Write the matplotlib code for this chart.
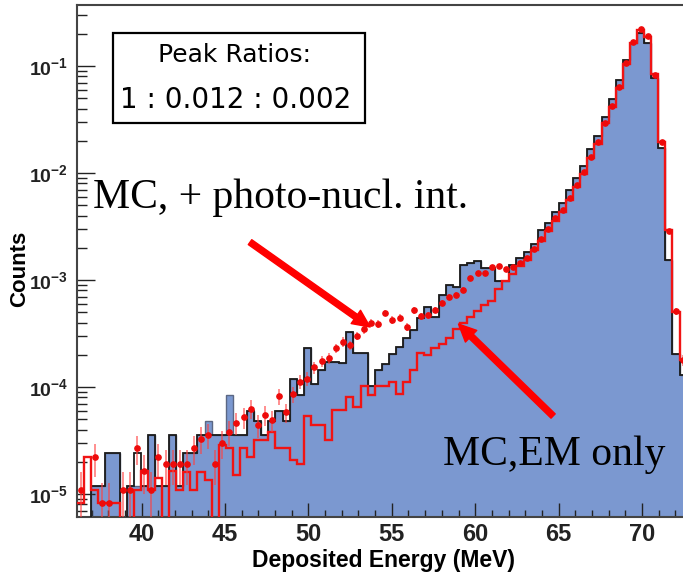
import numpy as np
import matplotlib.pyplot as plt
from matplotlib import font_manager
from matplotlib.patches import Rectangle
from matplotlib.ticker import LogLocator, MultipleLocator, FuncFormatter, NullFormatter

# deposited-energy spectra, 0.425 MeV bins starting at 36.125 MeV
data_fill = [0, 0, 1.2e-5, 1.2e-5, 2.4e-5, 2.4e-5, 0, 1.2e-5, 1.2e-5, 1.2e-5,
             3.6e-5, 1.2e-5, 1.2e-5, 3.6e-5, 1.2e-5, 2.4e-5, 2.4e-5, 3.6e-5, 4.8e-5, 3.6e-5,
             3.6e-5, 8.4e-5, 3.6e-5, 3.6e-5, 6.0e-5, 4.8e-5, 3.6e-5, 4.8e-5, 6.0e-5, 4.8e-5,
             1.2e-4, 8.4e-5, 2.3e-4, 1.07e-4, 1.44e-4, 1.73e-4, 1.73e-4, 1.69e-4, 3.3e-4, 2.07e-4,
             2.1e-4, 1.03e-4, 1.44e-4, 1.65e-4, 2.05e-4, 2.37e-4, 2.9e-4, 3.4e-4, 4.4e-4, 5.6e-4,
             4.5e-4, 7.3e-4, 9.0e-4, 8.7e-4, 1.38e-3, 1.43e-3, 1.52e-3, 1.3e-3, 1.3e-3, 9.9e-4,
             9.9e-4, 1.39e-3, 1.6e-3, 1.84e-3, 2.17e-3, 2.93e-3, 3.43e-3, 4.33e-3, 5.26e-3, 6.9e-3,
             8.9e-3, 0.0117, 0.0166, 0.0222, 0.0335, 0.049, 0.074, 0.114, 0.165, 0.202,
             0.164, 0.077, 0.017, 1.54e-3, 2.03e-4, 1.29e-4]

data_line = [0, 0, 1.2e-5, 1.2e-5, 2.4e-5, 2.4e-5, 0, 1.2e-5, 2.4e-5, 1.2e-5,
             3.6e-5, 1.2e-5, 1.2e-5, 3.6e-5, 1.2e-5, 2.4e-5, 2.4e-5, 3.6e-5, 3.6e-5, 3.6e-5,
             3.6e-5, 3.6e-5, 3.6e-5, 3.6e-5, 6.0e-5, 4.8e-5, 3.6e-5, 4.8e-5, 6.0e-5, 4.8e-5,
             1.2e-4, 8.4e-5, 2.3e-4, 1.07e-4, 1.44e-4, 1.73e-4, 1.73e-4, 1.69e-4, 3.3e-4, 2.07e-4,
             2.1e-4, 1.03e-4, 1.44e-4, 1.65e-4, 2.05e-4, 2.37e-4, 2.9e-4, 3.4e-4, 4.4e-4, 5.6e-4,
             4.5e-4, 7.3e-4, 9.0e-4, 8.7e-4, 1.38e-3, 1.43e-3, 1.52e-3, 1.3e-3, 1.3e-3, 9.9e-4,
             9.9e-4, 1.39e-3, 1.6e-3, 1.84e-3, 2.17e-3, 2.93e-3, 3.43e-3, 4.33e-3, 5.26e-3, 6.9e-3,
             8.9e-3, 0.0117, 0.0166, 0.0222, 0.0335, 0.049, 0.074, 0.114, 0.165, 0.202,
             0.164, 0.077, 0.017, 1.54e-3, 2.03e-4, 1.29e-4]

mc_em = [8.2e-6, 2.2e-5, 1.1e-5, 8.2e-6, 8.2e-6, 8.2e-6, 0, 0, 1.1e-5, 1.65e-5,
         1.1e-5, 1.4e-5, 0, 1.65e-5, 1.1e-5, 1.6e-5, 1.1e-5, 1.6e-5, 1.35e-5, 0,
         2.9e-5, 2.7e-5, 1.5e-5, 2.7e-5, 2.2e-5, 3.2e-5, 3.2e-5, 3.8e-5, 2.7e-5, 2.7e-5,
         2.1e-5, 1.9e-5, 5.4e-5, 4.4e-5, 4.4e-5, 3.2e-5, 6.1e-5, 6.1e-5, 8.1e-5, 6.5e-5,
         1.03e-4, 8.4e-5, 1.03e-4, 1.03e-4, 1.12e-4, 8.7e-5, 1.12e-4, 1.44e-4, 2.1e-4, 2.0e-4,
         2.3e-4, 2.5e-4, 2.9e-4, 3.5e-4, 4.0e-4, 4.5e-4, 5.1e-4, 5.9e-4, 6.4e-4, 8.2e-4,
         9.7e-4, 1.15e-3, 1.35e-3, 1.54e-3, 1.9e-3, 2.3e-3, 2.9e-3, 3.6e-3, 4.3e-3, 5.6e-3,
         7.4e-3, 9.8e-3, 0.0137, 0.0187, 0.0292, 0.041, 0.063, 0.104, 0.165, 0.217,
         0.188, 0.084, 0.0196, 2.93e-3, 5.06e-4, 1.79e-4]

mc_pn = [1.1e-5, np.nan, 2.2e-5, 8.2e-6, 8.2e-6, np.nan, 1.1e-5, 1.1e-5, 2.7e-5, 1.65e-5,
         1.1e-5, 2.2e-5, 1.9e-5, 1.9e-5, 1.9e-5, 1.9e-5, 2.7e-5, 3.3e-5, 3.6e-5, 1.9e-5,
         3.0e-5, 3.8e-5, 4.6e-5, 5.2e-5, 6.3e-5, 4.4e-5, 5.5e-5, 4.9e-5, 8.2e-5, 5.8e-5,
         8.6e-5, 1.12e-4, 1.2e-4, 1.53e-4, 1.76e-4, 1.85e-4, 2.3e-4, 2.65e-4, 2.45e-4, 3.0e-4,
         3.45e-4, 4.0e-4, 3.9e-4, 4.95e-4, 4.25e-4, 4.45e-4, 3.65e-4, 5.2e-4, 4.6e-4, 4.7e-4,
         5.25e-4, 6.1e-4, 7.0e-4, 7.3e-4, 8.1e-4, 1.04e-3, 1.17e-3, 1.17e-3, 1.33e-3, 1.34e-3,
         1.26e-3, 1.31e-3, 1.45e-3, 1.6e-3, 1.95e-3, 2.4e-3, 3.0e-3, 3.8e-3, 4.5e-3, 5.9e-3,
         7.8e-3, 0.0103, 0.0142, 0.0195, 0.0295, 0.042, 0.064, 0.106, 0.168, 0.222,
         0.19, 0.083, 0.0195, 2.9e-3, 5.1e-4, 1.8e-4]

mc_weight = 2.5e-6   # per-event weight of the photo-nuclear MC sample

# fonts
names = {f.name for f in font_manager.fontManager.ttflist}
narrow = 'Liberation Sans Narrow' if 'Liberation Sans Narrow' in names else 'Liberation Sans'
plt.rcParams['font.family'] = [narrow, 'Liberation Sans', 'DejaVu Sans']
plt.rcParams['font.weight'] = 'bold'
plt.rcParams['mathtext.fontset'] = 'custom'
plt.rcParams['mathtext.rm'] = 'Liberation Sans:bold'
plt.rcParams['mathtext.it'] = 'Liberation Sans:bold'
plt.rcParams['mathtext.bf'] = 'Liberation Sans:bold'

data_fill = np.array(data_fill)
data_line = np.array(data_line)
mc_em = np.array(mc_em)
mc_pn = np.array(mc_pn)

edges = 0.425 * np.arange(85, 85 + len(data_fill) + 1)
centers = 0.5 * (edges[:-1] + edges[1:])
floor = 1e-9

fig = plt.figure(figsize=(6.83, 5.73), dpi=100)
ax = fig.add_axes([0.1127, 0.0977, 0.8975, 0.8935])
ax.set_yscale('log')

ax.stairs(np.where(data_fill > 0, data_fill, floor), edges, baseline=floor,
          fill=True, color='#7b98d0', zorder=1)
ax.stairs(np.where(data_fill > 0, data_fill, floor), edges, baseline=floor,
          color='#5b6784', lw=1.0, zorder=2)
ax.stairs(np.where(data_line > 0, data_line, floor), edges, baseline=None,
          color='#1a1a1a', lw=1.3, zorder=3)
ax.stairs(np.where(mc_em > 0, mc_em, floor), edges, baseline=None,
          color='#f01414', lw=1.7, zorder=4)

err = np.sqrt(mc_pn * mc_weight)
ax.errorbar(centers, mc_pn, yerr=[np.minimum(err, 0.999 * mc_pn), err], xerr=0.12,
            fmt='o', ms=3.8, color='#ee0a0a', ecolor=(1.0, 0.25, 0.25, 0.75),
            elinewidth=1.1, capsize=0, zorder=5)

ax.set_xlim(36.125, 72.875)
ax.set_ylim(6.1e-6, 0.3715)

ax.xaxis.set_major_locator(MultipleLocator(5))
ax.xaxis.set_minor_locator(MultipleLocator(1))
ax.yaxis.set_major_locator(LogLocator(base=10, numticks=20))
ax.yaxis.set_minor_locator(LogLocator(base=10, subs=np.arange(2, 10), numticks=20))
ax.yaxis.set_minor_formatter(NullFormatter())
ax.yaxis.set_major_formatter(FuncFormatter(
    lambda v, p: r'$\mathregular{10^{%d}}$' % round(np.log10(v))))

ax.tick_params(axis='x', which='major', direction='in', length=10, width=1.0,
               top=False, labelsize=17, pad=4, colors='#222222')
ax.tick_params(axis='x', which='minor', direction='in', length=5, width=1.0,
               top=False, colors='#222222')
ax.tick_params(axis='y', which='major', direction='in', length=13, width=1.0,
               right=False, labelsize=14, pad=6.5, colors='#222222')
ax.tick_params(axis='y', which='minor', direction='in', length=7, width=1.0,
               right=False, colors='#222222')

for side in ['left', 'bottom', 'top']:
    ax.spines[side].set_color('#444444')
    ax.spines[side].set_linewidth(1.5)

ax.set_xlabel('Deposited Energy (MeV)', fontsize=16.5, fontweight='bold')
ax.xaxis.set_label_coords(0.5, -0.062)
ax.set_ylabel('Counts', fontsize=16, fontweight='bold', family='Liberation Sans')
ax.yaxis.set_label_coords(-0.076, 0.485)

# annotations
serif = 'Liberation Serif'
ax.text(37.09, 4.71e-3, 'MC, + photo-nucl. int.', fontsize=30, family=serif,
        fontweight='normal', ha='left', va='baseline', zorder=6)
ax.text(58.08, 1.87e-5, 'MC,EM only', fontsize=30, family=serif,
        fontweight='normal', ha='left', va='baseline', zorder=6)

arrow = dict(arrowstyle='simple,head_width=0.65,head_length=0.7,tail_width=0.24',
             color='#ff0000', shrinkA=0, shrinkB=0, mutation_scale=18)
ax.annotate('', xy=(53.70, 3.64e-4), xytext=(46.50, 2.26e-3), arrowprops=arrow, zorder=6)
ax.annotate('', xy=(59.0, 3.88e-4), xytext=(64.67, 5.36e-5), arrowprops=arrow, zorder=6)

# peak-ratio box
fig.patches.append(Rectangle((113 / 683, 1 - 123 / 573), 252 / 683, 90 / 573,
                             transform=fig.transFigure, facecolor='white',
                             edgecolor='black', lw=1.6, zorder=7))
fig.text(234 / 683, 1 - 55 / 573, 'Peak Ratios:', fontsize=18, family='DejaVu Sans',
         fontweight='normal', ha='center', va='center', zorder=8)
fig.text(236 / 683, 1 - 100 / 573, '1 : 0.012 : 0.002', fontsize=20, family='DejaVu Sans',
         fontweight='normal', ha='center', va='center', zorder=8)

fig.savefig('out.png', dpi=100)
